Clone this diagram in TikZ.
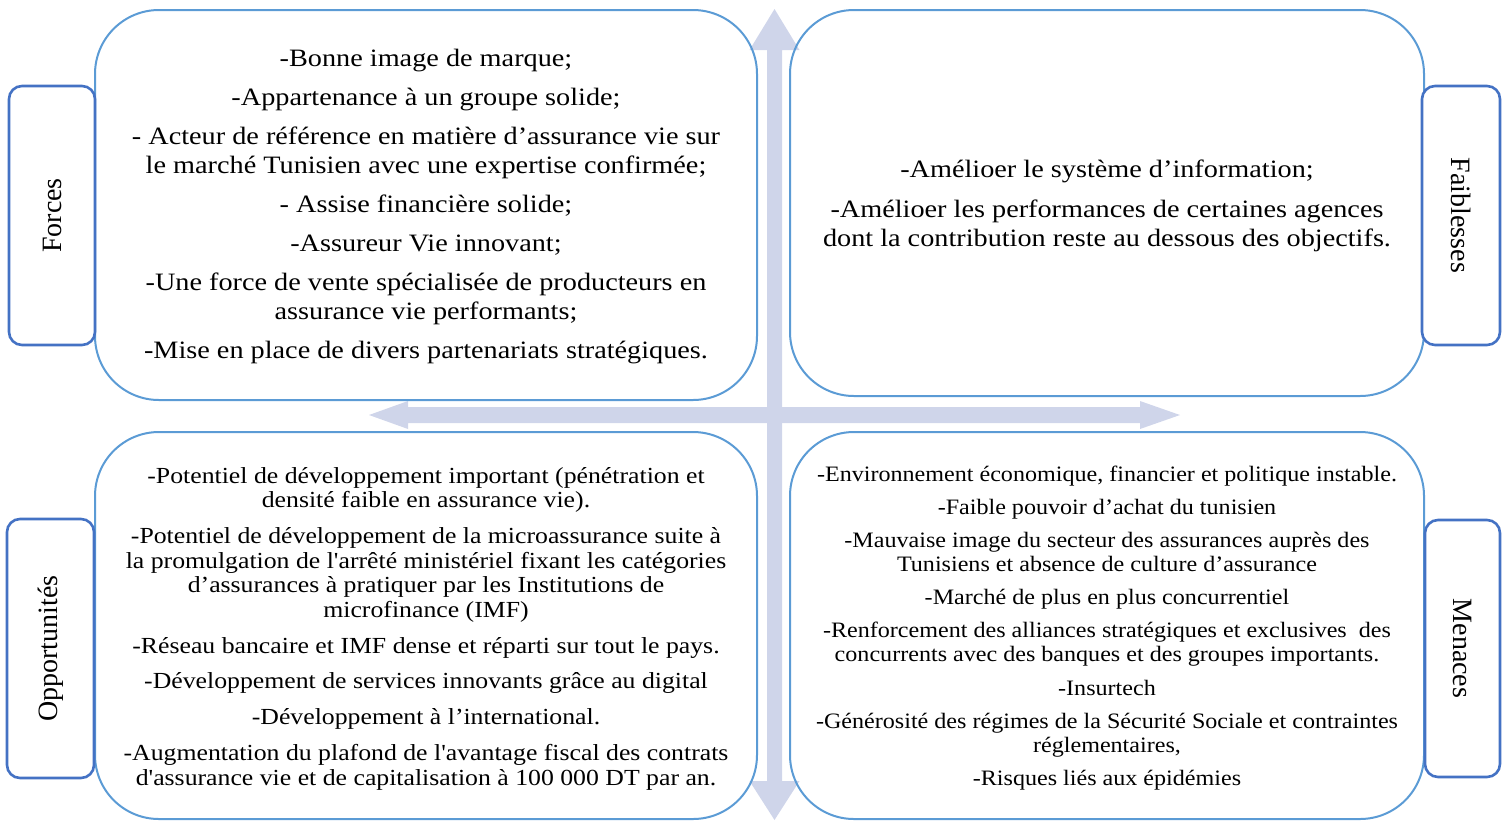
\documentclass[tikz,border=0pt]{standalone}
\usepackage{fontspec}
\setmainfont{Liberation Serif}
\newfontfamily\qfont{Liberation Serif}[FakeStretch=1.13]
\newfontfamily\qfontb{Liberation Serif}[FakeStretch=1.12]
\newfontfamily\qfontc{Liberation Serif}[FakeStretch=1.095]
\definecolor{quadblue}{HTML}{5B9BD5}
\definecolor{labblue}{HTML}{4472C4}
\definecolor{arrowfill}{HTML}{CFD5EA}
\begin{document}
\begin{tikzpicture}[x=0.5pt,y=-0.5pt,
  quad/.style={draw=quadblue, line width=1pt, rounded corners=32pt, inner sep=0pt},
  txt/.style={align=center, inner sep=0pt},
  toptext/.style={txt, font=\qfont\fontsize{12.5}{14.5}\selectfont},
  bltext/.style={txt, font=\qfontb\fontsize{11.5}{12.25}\selectfont},
  brtext/.style={txt, font=\qfontc\fontsize{11}{12}\selectfont},
  lab/.style={draw=labblue, line width=1.3pt, rounded corners=6.5pt, fill=white, inner sep=0pt,
    font=\fontsize{14}{16}\selectfont},
  bigarrow/.style={fill=arrowfill, draw=none}]
\useasboundingbox (0,0) rectangle (1504,820);
% cross arrows
\fill[bigarrow] (774.5,9) -- (799.5,50) -- (782,50) -- (782,781) -- (799.5,781) -- (774.5,820)
  -- (749.5,781) -- (767,781) -- (767,50) -- (749.5,50) -- cycle;
\fill[bigarrow] (369,415) -- (408,401) -- (408,407) -- (1140,407) -- (1140,401) -- (1180,415)
  -- (1140,429) -- (1140,423) -- (408,423) -- (408,429) -- cycle;
% quadrants
\node[quad, minimum width=331pt, minimum height=195pt] (tl) at (426,205) {};
\node[quad, minimum width=317pt, minimum height=193pt] (tr) at (1107,203) {};
\node[quad, minimum width=331pt, minimum height=193.5pt] (bl) at (426,625.5) {};
\node[quad, minimum width=317pt, minimum height=193.5pt] (br) at (1107,625.5) {};
\node[toptext] (tltext) at ([yshift=-0.9pt]tl.center) {%
-Bonne image de marque;\\[5pt]
-Appartenance à un groupe solide;\\[5pt]
- Acteur de référence en matière d’assurance vie sur\\
le marché Tunisien avec une expertise confirmée;\\[5pt]
- Assise financière solide;\\[5pt]
-Assureur Vie innovant;\\[5pt]
-Une force de vente spécialisée de producteurs en\\
assurance vie performants;\\[5pt]
-Mise en place de divers partenariats stratégiques.};
\node[toptext] (trtext) at ([yshift=-1.3pt]tr.center) {%
-Amélioer le système d’information;\\[5.5pt]
-Amélioer les performances de certaines agences\\
dont la contribution reste au dessous des objectifs.};
\node[bltext] (bltxt) at ([yshift=-1.6pt]bl.center) {%
-Potentiel de développement important (pénétration et\\
densité faible en assurance vie).\\[5.7pt]
-Potentiel de développement de la microassurance suite à\\
la promulgation de l'arrêté ministériel fixant les catégories\\
d’assurances à pratiquer par les Institutions de\\
microfinance (IMF)\\[5.7pt]
-Réseau bancaire et IMF dense et réparti sur tout le pays.\\[5.7pt]
-Développement de services innovants grâce au digital\\[5.7pt]
-Développement à l’international.\\[5.7pt]
-Augmentation du plafond de l'avantage fiscal des contrats\\
d'assurance vie et de capitalisation à 100 000 DT par an.};
\node[brtext] (brtxt) at ([yshift=-1.2pt]br.center) {%
-Environnement économique, financier et politique instable.\\[4.6pt]
-Faible pouvoir d’achat du tunisien\\[4.6pt]
-Mauvaise image du secteur des assurances auprès des\\
Tunisiens et absence de culture d’assurance\\[4.6pt]
-Marché de plus en plus concurrentiel\\[4.6pt]
-Renforcement des alliances stratégiques et exclusives\ \ des\\
concurrents avec des banques et des groupes importants.\\[4.6pt]
-Insurtech\\[4.6pt]
-Générosité des régimes de la Sécurité Sociale et contraintes\\
réglementaires,\\[4.6pt]
-Risques liés aux épidémies};
% labels
\node[lab, rotate=90, minimum width=129.5pt, minimum height=43pt] (forces) at (52,215.5) {Forces};
\node[lab, rotate=-90, minimum width=129.5pt, minimum height=39pt] (faib) at (1461,215.5) {Faiblesses};
\node[lab, rotate=90, minimum width=129.5pt, minimum height=43.5pt] (opp) at (50.5,648.5) {Opportunités};
\node[lab, rotate=-90, minimum width=128.5pt, minimum height=37.5pt] (men) at (1462.5,648.5) {Menaces};
\end{tikzpicture}
\end{document}
